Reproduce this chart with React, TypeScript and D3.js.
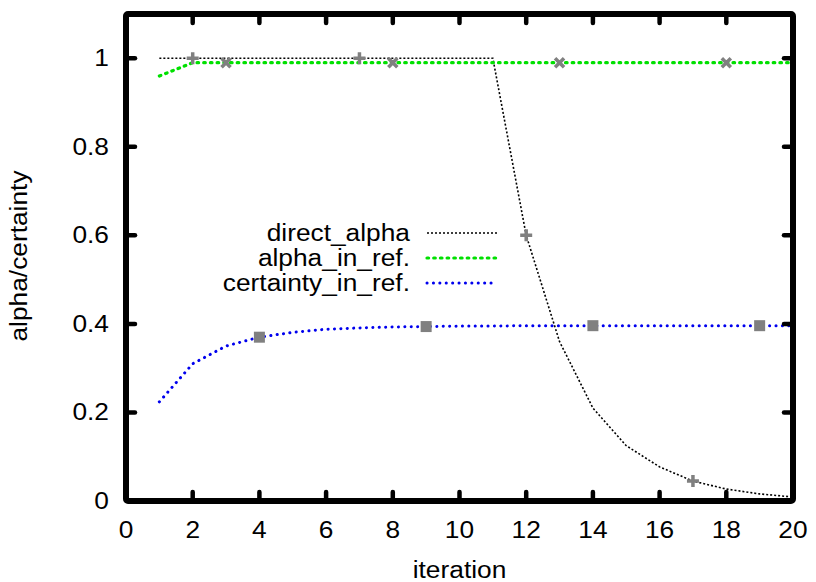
import React, { useEffect, useRef } from 'react';
import * as d3 from 'd3';

const iterations = [1, 2, 3, 4, 5, 6, 7, 8, 9, 10, 11, 12, 13, 14, 15, 16, 17, 18, 19, 20];
const directAlpha = [1, 1, 1, 1, 1, 1, 1, 1, 1, 1, 1, 0.6, 0.36, 0.21, 0.125, 0.077, 0.045, 0.027, 0.016, 0.009];
const alphaInRef = [0.96, 0.99, 0.99, 0.99, 0.99, 0.99, 0.99, 0.99, 0.99, 0.99, 0.99, 0.99, 0.99, 0.99, 0.99, 0.99, 0.99, 0.99, 0.99, 0.99];
const certaintyInRef = [0.224, 0.31, 0.35, 0.37, 0.381, 0.388, 0.391, 0.393, 0.394, 0.395, 0.395, 0.396, 0.396, 0.396, 0.396, 0.396, 0.396, 0.396, 0.396, 0.396];
const xTicks = [0, 2, 4, 6, 8, 10, 12, 14, 16, 18, 20];
const yTicks = [0, 0.2, 0.4, 0.6, 0.8, 1];
const seriesNames = ['direct_alpha', 'alpha_in_ref.', 'certainty_in_ref.'];

const W = 816;
const H = 582;

const App = () => {
  const ref = useRef<SVGSVGElement>(null);

  useEffect(() => {
    if (!ref.current) return;
    const svg = d3.select(ref.current);
    svg.selectAll('*').remove();

    const m = { left: 126, right: W - 793, top: 14, bottom: H - 501 };
    const x = d3.scaleLinear().domain([0, 20]).range([m.left, W - m.right]);
    const y = d3.scaleLinear().domain([0, 1.1]).range([H - m.bottom, m.top]);
    const font = 'Liberation Sans, Arial, sans-serif';
    const fs = 23.5;
    const sx = 1.12;

    // text with the slightly wide glyphs of the original
    const label = (px: number, py: number, txt: string, anchor: string, rot = 0) =>
      svg
        .append('text')
        .attr('transform', `translate(${px},${py}) rotate(${rot}) scale(${sx},1)`)
        .attr('text-anchor', anchor)
        .attr('font-family', font)
        .attr('font-size', fs)
        .attr('fill', '#000')
        .text(txt);

    const series = [
      { name: seriesNames[0], values: directAlpha, color: '#000', width: 1.6, dash: '2,2', cap: 'butt', marker: 'plus', start: 2 },
      { name: seriesNames[1], values: alphaInRef, color: '#00e000', width: 3.2, dash: '1.6,5.1', cap: 'round', marker: 'cross', start: 3 },
      { name: seriesNames[2], values: certaintyInRef, color: '#0000ee', width: 3, dash: '0.1,6.3', cap: 'round', marker: 'square', start: 4 },
    ];

    const line = d3
      .line<number>()
      .x((_, i) => x(iterations[i]))
      .y((d) => y(d));

    series.forEach((s) => {
      svg
        .append('path')
        .datum(s.values)
        .attr('fill', 'none')
        .attr('stroke', s.color)
        .attr('stroke-width', s.width)
        .attr('stroke-dasharray', s.dash)
        .attr('stroke-linecap', s.cap)
        .attr('d', line);
    });

    // gray point markers every 5 iterations
    const grey = '#808080';
    series.forEach((s) => {
      const pts = iterations.map((it, i) => ({ it, v: s.values[i] })).filter((p) => p.it >= s.start && (p.it - s.start) % 5 === 0);
      pts.forEach((p) => {
        const cx = x(p.it);
        const cy = y(p.v);
        if (s.marker === 'plus') {
          svg.append('path').attr('d', `M${cx - 6},${cy}H${cx + 6}M${cx},${cy - 6}V${cy + 6}`).attr('stroke', grey).attr('stroke-width', 3.5);
        } else if (s.marker === 'cross') {
          svg.append('path').attr('d', `M${cx - 4.5},${cy - 4.5}L${cx + 4.5},${cy + 4.5}M${cx - 4.5},${cy + 4.5}L${cx + 4.5},${cy - 4.5}`).attr('stroke', grey).attr('stroke-width', 3.5);
        } else {
          svg.append('rect').attr('x', cx - 5.5).attr('y', cy - 5.5).attr('width', 11).attr('height', 11).attr('fill', grey);
        }
      });
    });

    // ticks on all four sides, inward
    const tl = 9;
    const tickG = svg.append('g').attr('stroke', '#000').attr('stroke-width', 4.5).attr('stroke-linecap', 'round');
    xTicks.forEach((t) => {
      if (t === 0 || t === 20) return;
      tickG.append('line').attr('x1', x(t)).attr('x2', x(t)).attr('y1', y(0)).attr('y2', y(0) - tl);
      tickG.append('line').attr('x1', x(t)).attr('x2', x(t)).attr('y1', y(1.1)).attr('y2', y(1.1) + tl);
    });
    yTicks.forEach((t) => {
      if (t === 0) return;
      tickG.append('line').attr('x1', x(0)).attr('x2', x(0) + tl).attr('y1', y(t)).attr('y2', y(t));
      tickG.append('line').attr('x1', x(20)).attr('x2', x(20) - tl).attr('y1', y(t)).attr('y2', y(t));
    });

    // frame
    svg
      .append('rect')
      .attr('x', x(0))
      .attr('y', y(1.1))
      .attr('width', x(20) - x(0))
      .attr('height', y(0) - y(1.1))
      .attr('fill', 'none')
      .attr('stroke', '#000')
      .attr('stroke-width', 6)
      .attr('rx', 2);

    // tick labels
    xTicks.forEach((t) => label(x(t), 538, String(t), 'middle'));
    yTicks.forEach((t) => label(109, y(t) + 8, String(t), 'end'));

    label((x(0) + x(20)) / 2, 578, 'iteration', 'middle');
    label(27, 256, 'alpha/certainty', 'middle', -90);

    // legend
    series.forEach((s, i) => {
      const ly = 233 + i * 25;
      label(410, ly + 8, s.name, 'end');
      svg
        .append('line')
        .attr('x1', 427)
        .attr('x2', 497)
        .attr('y1', ly)
        .attr('y2', ly)
        .attr('stroke', s.color)
        .attr('stroke-width', s.width)
        .attr('stroke-dasharray', s.dash)
        .attr('stroke-linecap', s.cap);
    });
  }, []);

  return (
    <div style={{ position: 'fixed', left: 0, top: 0, background: '#fff' }}>
      <svg width={W} height={H} ref={ref} />
    </div>
  );
};

export default App;
